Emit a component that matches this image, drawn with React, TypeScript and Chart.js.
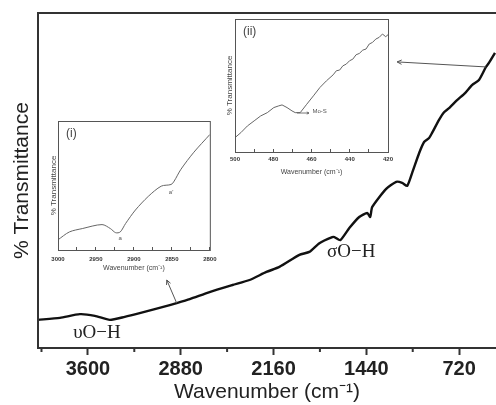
import React, { useEffect, useRef } from "react";
import { Chart, registerables } from "chart.js";

Chart.register(...registerables);

// ---------- main spectrum ----------
const mainWavenumbers = [
  3987, 3817, 3662, 3546, 3430, 3314, 3198, 3081, 2965, 2911, 2810, 2656, 2478, 2346, 2215, 2114, 1959, 1882,
  1804, 1704, 1688, 1642, 1572, 1495, 1433, 1410, 1394, 1286, 1208, 1162, 1123, 1085, 1030, 992, 953, 930, 876,
  837, 798, 736, 674, 620, 566, 512, 489, 442,
];
const mainTransmittance = [
  8.4, 9.0, 10.1, 9.6, 8.4, 9.3, 10.4, 11.6, 12.8, 13.4, 14.6, 16.7, 18.8, 20.3, 22.7, 24.2, 27.8, 28.7,
  31.3, 33.1, 33.1, 32.2, 35.8, 39.1, 40.3, 39.1, 42.1, 47.5, 49.6, 49.3, 48.4, 52.2, 58.2, 61.5, 62.7, 64.2, 68.1,
  70.4, 71.6, 74.0, 76.1, 78.5, 80.0, 83.9, 85.1, 88.1,
];
const mainMajorTicks = [3600, 2880, 2160, 1440, 720];
const mainMinorTicks = [3960, 3240, 2520, 1800, 1080];
const mainNoteTexts = ["υO−H", "σO−H"];
const mainNoteX = [3530, 1557];
const mainNoteY = [4.5, 28.7];
const mainArrowFromX = [2911, 512];
const mainArrowFromY = [13.4, 83.9];
const mainArrowToX = [2988, 1201];
const mainArrowToY = [20.3, 85.4];

// ---------- inset (i) ----------
const inset1Wavenumbers = [3000, 2985, 2968, 2942, 2931, 2924, 2918, 2911, 2898, 2881, 2864, 2851, 2847, 2838, 2821, 2800];
const inset1Transmittance = [7.9, 14.0, 16.6, 19.7, 16.6, 13.4, 14.0, 20.5, 31.0, 41.6, 49.5, 50.8, 53.4, 62.6, 75.8, 89.5];
const inset1Ticks = [3000, 2975, 2950, 2925, 2900, 2875, 2850, 2825, 2800];
const inset1Labels = ["a", "a'"];
const inset1LabelX = [2918, 2851];
const inset1LabelY = [9, 45];

// ---------- inset (ii) ----------
const inset2Wavenumbers = [
  500, 496.9, 493.5, 490, 486.6, 483.1, 479.7, 477.1, 475.4, 472.8, 470.2, 468.5, 465.9, 462.5, 459, 455.6, 452.2,
  448.7, 447, 445.3, 443.6, 441.8, 440.1, 438.4, 436.7, 435, 433.2, 431.5, 429.8, 428.1, 426.4, 424.6, 422.9, 421.2, 420,
];
const inset2Transmittance = [
  10.8, 14.6, 19.6, 23.4, 27.1, 29.6, 33.4, 34.7, 35.4, 33.4, 30.9, 29.6, 29.6, 35.9, 42.2, 48.5, 53.5,
  58.0, 61.1, 61.6, 64.8, 66.1, 68.6, 69.8, 73.1, 74.1, 76.6, 77.4, 81.2, 82.4, 84.9, 86.2, 88.7, 86.7, 88.2,
];
const inset2Ticks = [500, 490, 480, 470, 460, 450, 440, 430, 420];
const inset2ArrowFrom = [467.6, 29.3];
const inset2ArrowTo = [461.3, 29.3];
const inset2LabelText = "Mo-S";
const inset2LabelPos = [459.5, 30.5];

const SANS = "'Liberation Sans', Arial, sans-serif";
const SERIF = "'Liberation Serif', 'Times New Roman', serif";

function pts(xs: number[], ys: number[]) {
  return xs.map((x, i) => ({ x, y: ys[i] }));
}

function arrow(ctx: CanvasRenderingContext2D, x1: number, y1: number, x2: number, y2: number, head: number) {
  ctx.beginPath();
  ctx.moveTo(x1, y1);
  ctx.lineTo(x2, y2);
  ctx.stroke();
  const a = Math.atan2(y2 - y1, x2 - x1);
  ctx.beginPath();
  ctx.moveTo(x2 - head * Math.cos(a - 0.45), y2 - head * Math.sin(a - 0.45));
  ctx.lineTo(x2, y2);
  ctx.lineTo(x2 - head * Math.cos(a + 0.45), y2 - head * Math.sin(a + 0.45));
  ctx.stroke();
}

const mainPlugin = {
  id: "mainDecor",
  afterDraw(chart: any) {
    const { ctx, chartArea, scales } = chart;
    const xs = scales.x;
    const ys = scales.y;
    ctx.save();
    // frame
    ctx.strokeStyle = "#333";
    ctx.lineWidth = 2;
    ctx.beginPath();
    ctx.moveTo(chartArea.right + 2, chartArea.top);
    ctx.lineTo(chartArea.left, chartArea.top);
    ctx.lineTo(chartArea.left, chartArea.bottom);
    ctx.lineTo(chartArea.right + 2, chartArea.bottom);
    ctx.stroke();
    // minor ticks
    ctx.lineWidth = 2;
    mainMinorTicks.forEach((v) => {
      const px = xs.getPixelForValue(v);
      ctx.beginPath();
      ctx.moveTo(px, chartArea.bottom);
      ctx.lineTo(px, chartArea.bottom + 4);
      ctx.stroke();
    });
    // notes
    ctx.fillStyle = "#222";
    ctx.font = `19px ${SERIF}`;
    ctx.textAlign = "center";
    ctx.textBaseline = "middle";
    mainNoteTexts.forEach((t, i) => {
      ctx.fillText(t, xs.getPixelForValue(mainNoteX[i]), ys.getPixelForValue(mainNoteY[i]));
    });
    // arrows
    ctx.strokeStyle = "#555";
    ctx.lineWidth = 1;
    mainArrowFromX.forEach((_, i) => {
      arrow(
        ctx,
        xs.getPixelForValue(mainArrowFromX[i]),
        ys.getPixelForValue(mainArrowFromY[i]),
        xs.getPixelForValue(mainArrowToX[i]),
        ys.getPixelForValue(mainArrowToY[i]),
        5
      );
    });
    ctx.restore();
  },
};

function insetPlugin(tag: string, extra: (chart: any) => void) {
  return {
    id: "insetDecor" + tag,
    afterDraw(chart: any) {
      const { ctx, chartArea } = chart;
      ctx.save();
      ctx.strokeStyle = "#555";
      ctx.lineWidth = 1;
      ctx.strokeRect(chartArea.left + 0.5, chartArea.top + 0.5, chartArea.right - chartArea.left, chartArea.bottom - chartArea.top);
      ctx.fillStyle = "#444";
      ctx.font = `12px ${SANS}`;
      ctx.textAlign = "left";
      ctx.textBaseline = "middle";
      ctx.fillText(tag, chartArea.left + 8, chartArea.top + 13);
      extra(chart);
      ctx.restore();
    },
  };
}

function insetOptions(
  minX: number,
  maxX: number,
  ticks: number[],
  labelStep: number,
  yWidth: number,
  xHeight: number,
  yTitlePad: number,
  xTitlePad: number,
  tickPad: number,
  padRight: number,
  padTop: number
) {
  return {
    responsive: false,
    animation: false as const,
    events: [],
    layout: { padding: { top: padTop, right: padRight, left: 0, bottom: 0 } },
    plugins: { legend: { display: false }, tooltip: { enabled: false } },
    scales: {
      x: {
        type: "linear" as const,
        reverse: true,
        min: minX,
        max: maxX,
        afterBuildTicks: (s: any) => {
          s.ticks = ticks.map((v) => ({ value: v }));
        },
        afterFit: (s: any) => {
          s.height = xHeight;
        },
        grid: { drawOnChartArea: false, drawTicks: true, tickLength: -3, tickWidth: 1, tickColor: "#555" },
        border: { display: false },
        ticks: {
          autoSkip: false,
          maxRotation: 0,
          padding: tickPad,
          color: "#333",
          font: { family: SANS, size: 6, weight: "bold" as const },
          callback: (v: any) => (Math.abs(v % labelStep) < 1e-6 ? String(v) : ""),
        },
        title: {
          display: true,
          text: "Wavenumber (cm⁻¹)",
          color: "#444",
          font: { family: SANS, size: 7 },
          padding: { top: 0, bottom: xTitlePad },
        },
      },
      y: {
        min: 0,
        max: 100,
        afterFit: (s: any) => {
          s.width = yWidth;
        },
        ticks: { display: false },
        grid: { display: false },
        border: { display: false },
        title: {
          display: true,
          text: "% Transmittance",
          color: "#444",
          font: { family: SANS, size: 8 },
          padding: { top: yTitlePad, bottom: 0 },
        },
      },
    },
  };
}

export default function App() {
  const mainRef = useRef<HTMLCanvasElement>(null);
  const in1Ref = useRef<HTMLCanvasElement>(null);
  const in2Ref = useRef<HTMLCanvasElement>(null);

  useEffect(() => {
    document.body.style.margin = "0";
    const charts: Chart[] = [];

    charts.push(
      new Chart(mainRef.current!, {
        type: "line",
        data: {
          datasets: [
            {
              data: pts(mainWavenumbers, mainTransmittance),
              borderColor: "#111",
              borderWidth: 2.4,
              pointRadius: 0,
              tension: 0.2,
            },
          ],
        },
        options: {
          responsive: false,
          animation: false,
          events: [],
          layout: { padding: { top: 13, right: 0, left: 0, bottom: 0 } },
          plugins: { legend: { display: false }, tooltip: { enabled: false } },
          scales: {
            x: {
              type: "linear",
              reverse: true,
              min: 434,
              max: 3987,
              afterBuildTicks: (s: any) => {
                s.ticks = mainMajorTicks.map((v) => ({ value: v }));
              },
              afterFit: (s: any) => {
                s.height = 57;
              },
              grid: { drawOnChartArea: false, drawTicks: true, tickLength: 7, tickWidth: 2, tickColor: "#333" },
              border: { display: false },
              ticks: {
                autoSkip: false,
                maxRotation: 0,
                padding: 2,
                color: "#222",
                font: { family: SANS, size: 20, weight: "bold" },
                callback: (v: any) => String(v),
              },
              title: {
                display: true,
                text: "Wavenumber (cm⁻¹)",
                color: "#222",
                font: { family: SANS, size: 21 },
                padding: { top: 0, bottom: 0 },
              },
            },
            y: {
              min: 0,
              max: 100,
              afterFit: (s: any) => {
                s.width = 38;
              },
              ticks: { display: false },
              grid: { display: false },
              border: { display: false },
              title: {
                display: true,
                text: "% Transmittance",
                color: "#222",
                font: { family: SANS, size: 21 },
                padding: { top: 9.4, bottom: 0 },
              },
            },
          },
        } as any,
        plugins: [mainPlugin],
      })
    );

    charts.push(
      new Chart(in1Ref.current!, {
        type: "line",
        data: {
          datasets: [
            {
              data: pts(inset1Wavenumbers, inset1Transmittance),
              borderColor: "#666",
              borderWidth: 1,
              pointRadius: 0,
              tension: 0.3,
            },
          ],
        },
        options: insetOptions(2800, 3000, inset1Ticks, 50, 18, 27, 9.2, 4.8, 8.5, 13, 9) as any,
        plugins: [
          insetPlugin("(i)", (chart: any) => {
            const { ctx, scales } = chart;
            ctx.font = `6px ${SANS}`;
            ctx.fillStyle = "#555";
            ctx.textAlign = "center";
            inset1Labels.forEach((t, i) => {
              ctx.fillText(t, scales.x.getPixelForValue(inset1LabelX[i]), scales.y.getPixelForValue(inset1LabelY[i]));
            });
          }),
        ],
      })
    );

    charts.push(
      new Chart(in2Ref.current!, {
        type: "line",
        data: {
          datasets: [
            {
              data: pts(inset2Wavenumbers, inset2Transmittance),
              borderColor: "#666",
              borderWidth: 1,
              pointRadius: 0,
              tension: 0,
            },
          ],
        },
        options: insetOptions(420, 500, inset2Ticks, 20, 15, 26, 5.2, 1.8, 6.5, 12, 9) as any,
        plugins: [
          insetPlugin("(ii)", (chart: any) => {
            const { ctx, scales } = chart;
            ctx.strokeStyle = "#555";
            ctx.lineWidth = 0.8;
            arrow(
              ctx,
              scales.x.getPixelForValue(inset2ArrowFrom[0]),
              scales.y.getPixelForValue(inset2ArrowFrom[1]),
              scales.x.getPixelForValue(inset2ArrowTo[0]),
              scales.y.getPixelForValue(inset2ArrowTo[1]),
              2.5
            );
            ctx.font = `6px ${SANS}`;
            ctx.fillStyle = "#555";
            ctx.textAlign = "left";
            ctx.textBaseline = "middle";
            ctx.fillText(
              inset2LabelText,
              scales.x.getPixelForValue(inset2LabelPos[0]),
              scales.y.getPixelForValue(inset2LabelPos[1])
            );
          }),
        ],
      })
    );

    return () => {
      charts.forEach((c) => c.destroy());
    };
  }, []);

  return (
    <div style={{ position: "fixed", left: 0, top: 0, width: 496, height: 405, background: "#fff", overflow: "hidden" }}>
      <canvas ref={mainRef} width={496} height={405} style={{ position: "absolute", left: 0, top: 0 }} />
      <canvas ref={in1Ref} width={185} height={165} style={{ position: "absolute", left: 40, top: 112 }} />
      <canvas ref={in2Ref} width={180} height={168} style={{ position: "absolute", left: 220, top: 10 }} />
    </div>
  );
}
